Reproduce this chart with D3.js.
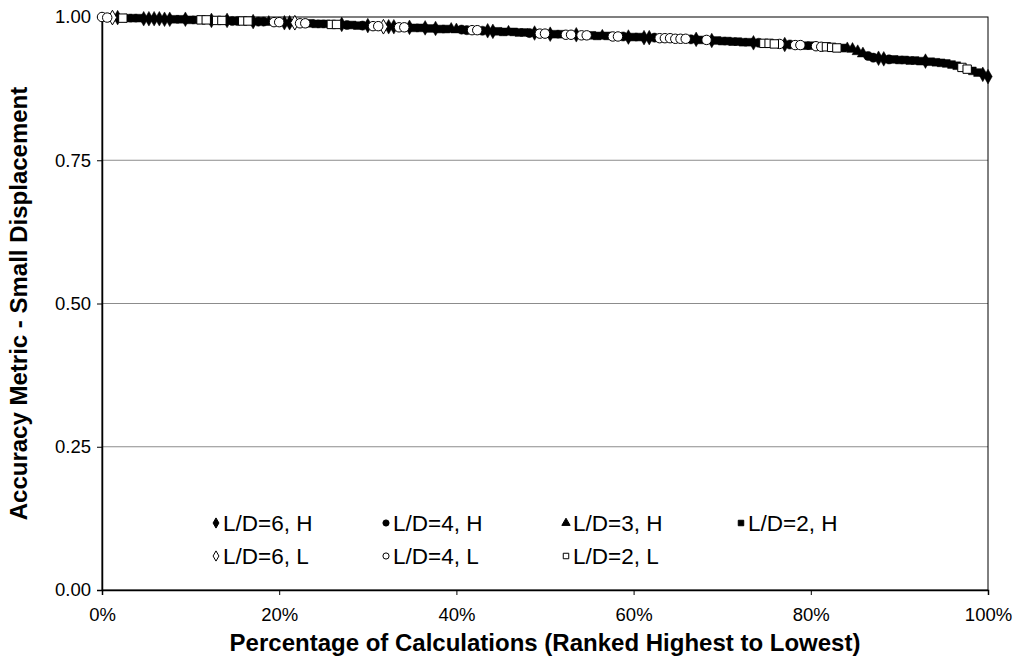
<!DOCTYPE html>
<html>
<head>
<meta charset="utf-8">
<script src="https://cdn.jsdelivr.net/npm/d3@7"></script>
<style>
  body { margin: 0; background: #fff; }
  svg text { font-family: "Liberation Sans", Arial, sans-serif; }
</style>
</head>
<body>
<svg id="chart" width="1021" height="662"></svg>
<script>
// series in legend order
var seriesNames = ["L/D=6, H", "L/D=4, H", "L/D=3, H", "L/D=2, H", "L/D=6, L", "L/D=4, L", "L/D=2, L"];
var seriesCodes = ["D", "C", "T", "S", "d", "c", "s"];

// which series each ranked calculation belongs to (highest to lowest)
var rankedSeries = (
  "ccdDsSSSDDDDDDSSDSSssDssDCC" +
  "ssDCCTccDDdccSSSSssDCSSCDccdDD" +
  "ccDSSDSDSSTTCCccCDDSSTSSSCDcc" +
  "DSSccDccSSTSccCDSSDDCccccccCDS" +
  "cDSSSSSSSDCssscDCccSSccsssST" +
  "TTTCCDDCSSSSSSDSSSSSSssSSDD"
).split("");

// accuracy metric of each ranked calculation
var accuracy = [
  1.000,0.999,0.999,0.999,0.998,0.998,0.998,0.998,0.997,0.997,0.997,0.997,0.996,0.996,0.996,0.996,0.996,0.995,0.995,0.995,0.995,0.994,0.994,0.994,0.994,0.993,0.993,
  0.993,0.993,0.992,0.992,0.992,0.991,0.991,0.991,0.990,0.990,0.990,0.989,0.989,0.989,0.988,0.988,0.988,0.987,0.987,0.987,0.986,0.986,0.985,0.985,0.985,0.984,0.984,0.983,0.983,0.983,0.982,
  0.982,0.982,0.981,0.981,0.981,0.980,0.980,0.979,0.979,0.979,0.978,0.978,0.977,0.977,0.977,0.976,0.976,0.975,0.975,0.974,0.974,0.974,0.973,0.973,0.972,0.972,0.971,0.971,0.970,
  0.970,0.970,0.969,0.969,0.969,0.968,0.968,0.968,0.967,0.967,0.967,0.966,0.966,0.966,0.965,0.965,0.965,0.964,0.964,0.964,0.963,0.963,0.963,0.962,0.962,0.962,0.961,0.961,0.960,0.960,
  0.959,0.959,0.958,0.958,0.957,0.957,0.956,0.956,0.955,0.955,0.954,0.954,0.953,0.953,0.952,0.952,0.951,0.951,0.950,0.950,0.949,0.948,0.948,0.947,0.946,0.946,0.945,0.944,
  0.940,0.936,0.932,0.929,0.928,0.927,0.926,0.926,0.925,0.925,0.924,0.924,0.923,0.923,0.922,0.921,0.920,0.919,0.917,0.915,0.912,0.909,0.906,0.903,0.900,0.896,0.893
];

var yTicks = [0, 0.25, 0.5, 0.75, 1.0];
var xTicks = [0, 0.2, 0.4, 0.6, 0.8, 1.0];

var margin = {left: 102, top: 17, right: 33, bottom: 72};
var W = 1021, H = 662;
var svg = d3.select("#chart");

var x = d3.scaleLinear().domain([0, 1]).range([margin.left, W - margin.right]);
var y = d3.scaleLinear().domain([0, 1]).range([H - margin.bottom, margin.top]);

// gridlines
svg.append("g").selectAll("line").data(yTicks.filter(function(t){ return t > 0 && t < 1; }))
  .enter().append("line")
  .attr("x1", x(0)).attr("x2", x(1))
  .attr("y1", function(d){ return y(d); }).attr("y2", function(d){ return y(d); })
  .attr("stroke", "#8c8c8c").attr("stroke-width", 1);

// frame
svg.append("rect")
  .attr("x", x(0)).attr("y", y(1))
  .attr("width", x(1) - x(0)).attr("height", y(0) - y(1))
  .attr("fill", "none").attr("stroke", "#000").attr("stroke-width", 1);

var yAxis = svg.append("g").attr("transform", "translate(" + x(0) + ",0)")
  .call(d3.axisLeft(y).tickValues(yTicks).tickSize(5).tickPadding(6).tickFormat(d3.format(".2f")));
var xAxis = svg.append("g").attr("transform", "translate(0," + y(0) + ")")
  .call(d3.axisBottom(x).tickValues(xTicks).tickSize(5).tickPadding(13).tickFormat(d3.format(".0%")));
[yAxis, xAxis].forEach(function(a){
  a.select(".domain").attr("stroke", "#000").attr("stroke-width", 1.5);
  a.selectAll(".tick line").attr("stroke", "#000");
  a.selectAll("text").attr("font-size", 18.5).attr("fill", "#000")
    .style("font-family", "'Liberation Sans', Arial, sans-serif");
});

// marker shapes
function markerPath(code, size) {
  var t = code.toUpperCase();
  var sym = t === "D" ? d3.symbolDiamond : t === "C" ? d3.symbolCircle : t === "T" ? d3.symbolTriangle : d3.symbolSquare;
  return d3.symbol().type(sym).size(size)();
}
function isOpen(code) { return code === code.toLowerCase(); }
var markerSize = { D: 62, C: 66, T: 56, S: 60, d: 62, c: 70, s: 70 };

var points = rankedSeries.map(function(code, i){
  return { code: code, pct: i / (rankedSeries.length - 1), value: accuracy[i] };
});

seriesCodes.forEach(function(code){
  svg.append("g").selectAll("path")
    .data(points.filter(function(p){ return p.code === code; }))
    .enter().append("path")
    .attr("transform", function(p){ return "translate(" + x(p.pct) + "," + y(p.value) + ")"; })
    .attr("d", markerPath(code, markerSize[code]))
    .attr("fill", isOpen(code) ? "#fff" : "#000")
    .attr("stroke", "#000")
    .attr("stroke-width", isOpen(code) ? 1 : 0.5);
});

// legend
var legendCols = [216, 386, 566, 741];
var legend = svg.append("g").selectAll("g").data(seriesNames).enter().append("g")
  .attr("transform", function(d, i){
    var row = i < 4 ? 0 : 1, col = i < 4 ? i : i - 4;
    return "translate(" + legendCols[col] + "," + (523 + row * 33) + ")";
  });
legend.append("path")
  .attr("d", function(d, i){ return markerPath(seriesCodes[i], 30); })
  .attr("fill", function(d, i){ return isOpen(seriesCodes[i]) ? "#fff" : "#000"; })
  .attr("stroke", "#000").attr("stroke-width", 1);
legend.append("text").attr("x", 7).attr("y", 8)
  .attr("font-size", 22.5).text(function(d){ return d; });

// axis titles
svg.append("text").attr("x", x(0.5)).attr("y", 651).attr("text-anchor", "middle")
  .attr("font-size", 24).attr("font-weight", "bold")
  .text("Percentage of Calculations (Ranked Highest to Lowest)");
svg.append("text").attr("transform", "translate(27," + y(0.5) + ") rotate(-90)")
  .attr("text-anchor", "middle").attr("font-size", 24).attr("font-weight", "bold")
  .text("Accuracy Metric - Small Displacement");
</script>
</body>
</html>
